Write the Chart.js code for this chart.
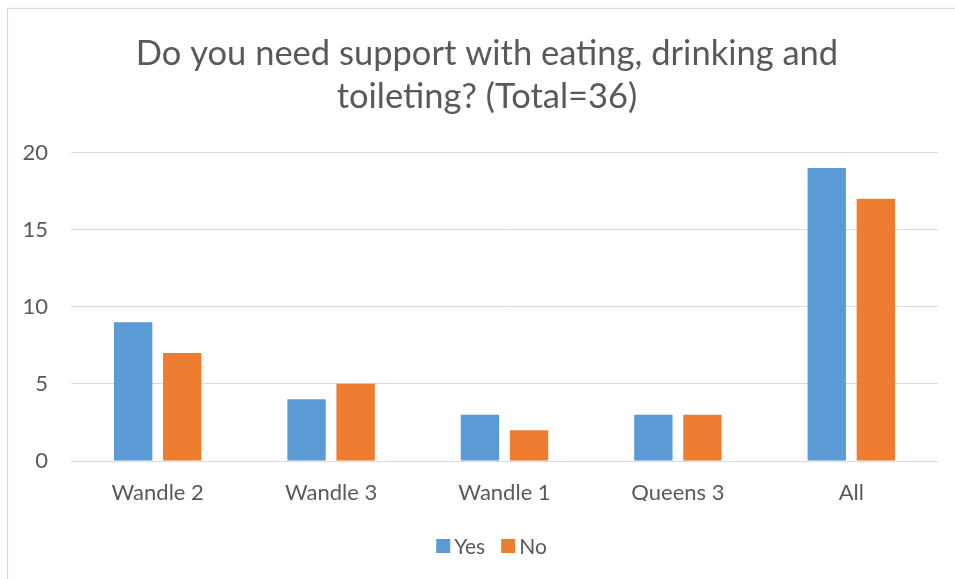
<!DOCTYPE html>
<html>
<head>
<meta charset="utf-8">
<script src="https://cdn.jsdelivr.net/npm/chart.js@4/dist/chart.umd.min.js"></script>
<style>
  html, body { margin: 0; padding: 0; background: #ffffff; }
  canvas { display: block; }
</style>
</head>
<body>
<canvas id="chart" width="955" height="579"></canvas>
<script>
// Survey answers per ward
const categories = ['Wandle 2', 'Wandle 3', 'Wandle 1', 'Queens 3', 'All'];
const yesCounts = [9, 4, 3, 3, 19];
const noCounts = [7, 5, 2, 3, 17];
const seriesNames = ['Yes', 'No'];
const titleLines = ['Do you need support with eating, drinking and', 'toileting? (Total=36)'];
const yAxisMin = 0;
const yAxisMax = 20;
const yAxisStep = 5;

const TEXT = '#595959';
const GRID = '#D9D9D9';
const BLUE = '#5B9BD5';
const ORANGE = '#ED7D31';
const FONT = 'Lato, "Open Sans", sans-serif';

// White page with a thin frame round the chart; title centred on the frame
const framePlugin = {
  id: 'frame',
  afterLayout(chart) {
    if (chart.titleBlock) {
      chart.titleBlock.left = 36;
    }
  },
  beforeDraw(chart) {
    const ctx = chart.ctx;
    ctx.save();
    ctx.fillStyle = '#ffffff';
    ctx.fillRect(0, 0, chart.width, chart.height);
    ctx.strokeStyle = GRID;
    ctx.lineWidth = 1.3;
    ctx.strokeRect(7.5, 8.5, chart.width + 20, chart.height + 20);
    ctx.restore();
  }
};

// Legend row under the axis: square swatch, then the series name
const legendRow = {
  id: 'legendRow',
  afterDraw(chart) {
    const ctx = chart.ctx;
    const box = 14, gapText = 4, gapItem = 16, centerX = 491.5, centerY = 546;
    ctx.save();
    ctx.font = '21px ' + FONT;
    ctx.textBaseline = 'middle';
    ctx.textAlign = 'left';
    const items = chart.data.datasets.map(ds => ({
      text: ds.label, color: ds.backgroundColor, w: ctx.measureText(ds.label).width
    }));
    let total = 0;
    items.forEach((it, i) => { total += box + gapText + it.w + (i ? gapItem : 0); });
    let x = centerX - total / 2;
    items.forEach(it => {
      ctx.fillStyle = it.color;
      ctx.fillRect(x, centerY - box / 2, box, box);
      ctx.fillStyle = TEXT;
      ctx.fillText(it.text, x + box + gapText, centerY + 1);
      x += box + gapText + it.w + gapItem;
    });
    ctx.restore();
  }
};

new Chart(document.getElementById('chart'), {
  type: 'bar',
  data: {
    labels: categories,
    datasets: [
      { label: seriesNames[0], data: yesCounts, backgroundColor: BLUE },
      { label: seriesNames[1], data: noCounts, backgroundColor: ORANGE }
    ]
  },
  options: {
    responsive: false,
    animation: false,
    devicePixelRatio: 1,
    datasets: {
      bar: { categoryPercentage: 0.566, barPercentage: 0.782 }
    },
    layout: { padding: { left: 0, right: 17, top: 0, bottom: 78 } },
    plugins: {
      legend: { display: false },
      tooltip: { enabled: false },
      title: {
        display: true,
        text: titleLines,
        color: TEXT,
        font: { family: FONT, size: 34.5, weight: 'normal', lineHeight: 1.246 },
        padding: { top: 32, bottom: 34.5 }
      }
    },
    scales: {
      x: {
        grid: { display: false, drawTicks: false },
        border: { display: false },
        ticks: { color: TEXT, font: { family: FONT, size: 22 }, padding: 19 },
        afterFit(scale) { scale.height = 40; }
      },
      y: {
        min: yAxisMin,
        max: yAxisMax,
        grid: { color: GRID, lineWidth: 1, drawTicks: false },
        border: { display: false },
        ticks: { stepSize: yAxisStep, color: TEXT, font: { family: FONT, size: 22 }, padding: 23 },
        afterFit(scale) { scale.width = 71; }
      }
    }
  },
  plugins: [framePlugin, legendRow]
});
</script>
</body>
</html>
